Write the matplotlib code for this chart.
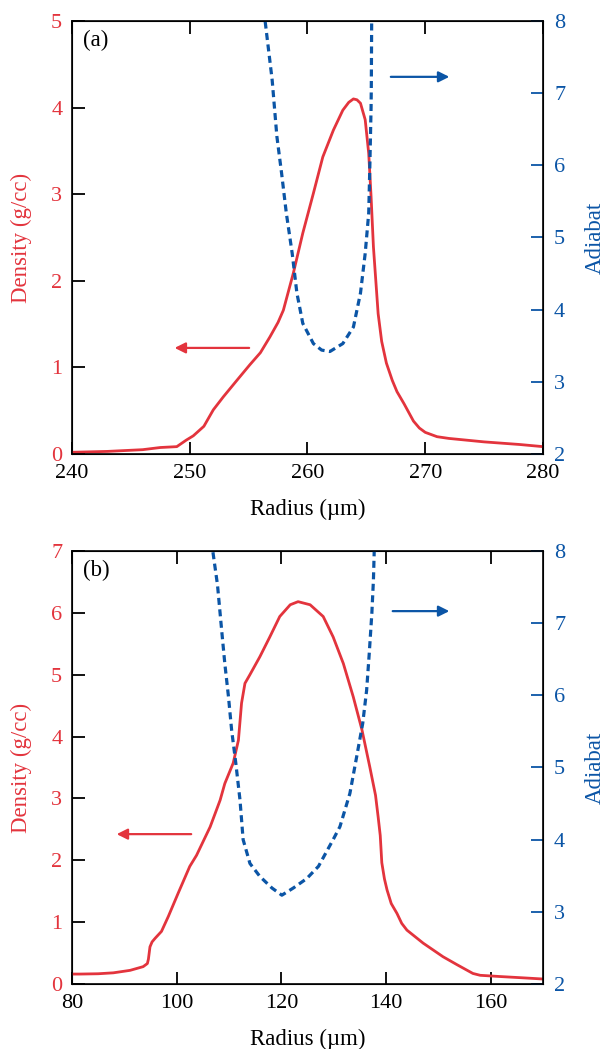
import matplotlib
matplotlib.use('Agg')
from matplotlib import pyplot as plt

plt.rcParams['font.family'] = ['Liberation Serif', 'DejaVu Serif']

RED = '#e3343d'
BLUE = '#0b55a6'

# ---------------- panel (a) ----------------
r_dens_a = [240, 243, 246, 247.5, 248.9, 249.7, 250.3, 251.2, 252.0, 252.85, 254.0, 255.1, 256.0,
            256.8, 257.5, 257.95, 258.8, 259.6, 260.5, 261.3, 262.2, 263.0, 263.5, 263.9, 264.2,
            264.5, 264.9, 265.2, 265.4, 265.6, 266.0, 266.3, 266.7, 267.2, 267.6, 268.2,
            269.0, 269.5, 270.0, 271.0, 272.0, 275.0, 278.0, 280.0]
dens_a = [0.02, 0.03, 0.05, 0.075, 0.085, 0.16, 0.21, 0.32, 0.51, 0.66, 0.85, 1.03, 1.17,
          1.35, 1.52, 1.66, 2.09, 2.55, 3.01, 3.43, 3.74, 3.97, 4.06, 4.10, 4.09,
          4.05, 3.86, 3.47, 2.97, 2.39, 1.62, 1.30, 1.05, 0.85, 0.72, 0.58,
          0.38, 0.30, 0.25, 0.20, 0.18, 0.14, 0.11, 0.085]

r_adi_a = [256.3, 256.4, 257.0, 257.4, 257.8, 258.2, 258.7, 259.1, 259.6, 260.5, 261.2, 261.9,
           263.0, 263.9, 264.5, 264.9, 265.2, 265.3, 265.4, 265.42, 265.45, 265.46]
adi_a = [8.15, 8.0, 7.18, 6.40, 5.89, 5.34, 4.78, 4.23, 3.81, 3.53, 3.44, 3.42,
         3.53, 3.76, 4.23, 4.78, 5.34, 6.03, 6.81, 7.11, 8.0, 8.2]

# ---------------- panel (b) ----------------
r_dens_b = [80, 81.5, 85, 87.9, 91.1, 93.6, 94.4, 94.6, 94.9, 95.3, 95.9, 97.1, 98.4, 100.3,
            102.5, 103.8, 106.4, 108.3, 109.2, 110.8, 111.8, 112.4, 113.05, 114.0, 115.9,
            117.8, 119.7, 121.7, 123.2, 125.5, 128.0, 129.9, 131.85, 133.75, 135.4, 136.9,
            138.0, 138.5, 138.9, 139.2, 139.7, 140.2, 141.0, 142.1, 143.0, 144.0, 147.1,
            150.9, 153.6, 156.6, 158.0, 161.8, 166.0, 170.0]
dens_b = [0.16, 0.16, 0.165, 0.18, 0.22, 0.28, 0.33, 0.40, 0.60, 0.68, 0.74, 0.85, 1.09, 1.47,
          1.90, 2.08, 2.54, 2.97, 3.24, 3.57, 3.94, 4.54, 4.86, 5.0, 5.29,
          5.61, 5.94, 6.13, 6.18, 6.13, 5.94, 5.61, 5.18, 4.64, 4.11, 3.51,
          3.05, 2.70, 2.40, 1.96, 1.70, 1.52, 1.30, 1.14, 0.98, 0.87, 0.66,
          0.44, 0.31, 0.17, 0.14, 0.12, 0.10, 0.08]

r_adi_b = [106.7, 106.9, 107.8, 108.6, 109.2, 109.9, 110.5, 111.3, 112.1, 112.7, 114.0, 115.9,
           118.2, 120.1, 122.3, 124.85, 127.1, 129.9, 131.2, 133.1, 134.4, 135.55, 136.3,
           136.8, 137.3, 137.6, 137.75, 137.85]
adi_b = [8.3, 8.0, 7.53, 6.9, 6.44, 5.98, 5.52, 5.06, 4.55, 4.0, 3.67, 3.49,
         3.33, 3.23, 3.33, 3.46, 3.63, 4.0, 4.18, 4.64, 5.15, 5.61, 6.07,
         6.58, 7.14, 7.6, 8.0, 8.3]

panels = [
    dict(r_d=r_dens_a, d=dens_a, r_a=r_adi_a, a=adi_a, xlim=(240, 280), xticks=[240, 250, 260, 270, 280],
         ylim=(0, 5), yticks=[0, 1, 2, 3, 4, 5], tag='(a)', bottom=0.5672,
         red_arrow=(0.382, 0.212, 0.245), blue_arrow=(0.671, 0.807, 0.871)),
    dict(r_d=r_dens_b, d=dens_b, r_a=r_adi_b, a=adi_b, xlim=(80, 170), xticks=[80, 100, 120, 140, 160],
         ylim=(0, 7), yticks=[0, 1, 2, 3, 4, 5, 6, 7], tag='(b)', bottom=0.062,
         red_arrow=(0.259, 0.089, 0.346), blue_arrow=(0.675, 0.807, 0.861)),
]

fig = plt.figure(figsize=(6.04, 10.49), dpi=100)

for p in panels:
    ax = fig.add_axes([0.1192, p['bottom'], 0.7798, 0.4128])
    ax2 = ax.twinx()

    ax.plot(p['r_d'], p['d'], c=RED, linewidth=2.0, zorder=3, solid_joinstyle='round')
    ax2.plot(p['r_a'], p['a'], c=BLUE, linewidth=2.3, linestyle=(0, (2.2, 1.4)))

    ax.set_xlim(*p['xlim'])
    ax.set_ylim(*p['ylim'])
    ax2.set_ylim(2, 8)
    ax.set_xticks(p['xticks'])
    ax.set_yticks(p['yticks'])
    ax2.set_yticks([2, 3, 4, 5, 6, 7, 8])

    ax.tick_params(axis='x', direction='in', length=9, width=1.3, top=True, labelsize=16, pad=7)
    ax.tick_params(axis='y', direction='in', length=9, width=1.3, right=False, labelsize=16,
                   pad=7, labelcolor=RED)
    ax2.tick_params(axis='y', direction='in', length=9, width=1.3, color=BLUE, labelsize=16,
                    pad=8, labelcolor=BLUE)
    for s in ax2.spines.values():
        s.set_linewidth(1.2)

    ax.set_xlabel('Radius (µm)', fontsize=16.5)
    ax.xaxis.set_label_coords(0.5, -0.104)
    ax.set_ylabel('Density (g/cc)', fontsize=16.5, color=RED)
    ax.yaxis.set_label_coords(-0.085, 0.5)
    ax2.set_ylabel('Adiabat', fontsize=16.5, color=BLUE)
    ax2.yaxis.set_label_coords(1.088, 0.5)

    ax.text(0.023, 0.979, p['tag'], transform=ax.transAxes, fontsize=16.5, va='top', ha='left')

    x0, x1, y = p['red_arrow']
    ax.annotate('', xy=(x1, y), xytext=(x0, y), xycoords='axes fraction',
                arrowprops=dict(arrowstyle='-|>', color=RED, lw=1.6, mutation_scale=16))
    x0, x1, y = p['blue_arrow']
    ax.annotate('', xy=(x1, y), xytext=(x0, y), xycoords='axes fraction',
                arrowprops=dict(arrowstyle='-|>', color=BLUE, lw=1.6, mutation_scale=16))

fig.savefig('out.png', dpi=100)
